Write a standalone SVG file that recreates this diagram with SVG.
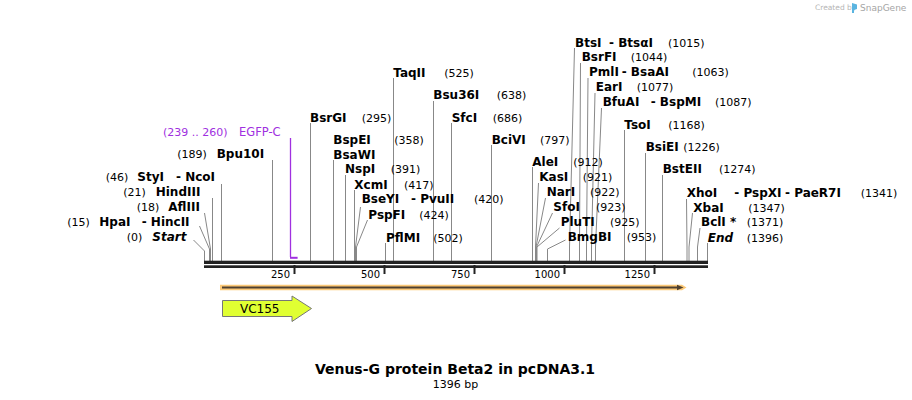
<svg xmlns="http://www.w3.org/2000/svg" width="912" height="400" viewBox="0 0 912 400">
<style>
.n{font-family:"DejaVu Sans",Verdana,sans-serif;font-size:12px;font-weight:bold;fill:#000}
.i{font-style:italic}
.p{font-family:"DejaVu Sans",Verdana,sans-serif;font-size:11px;fill:#000}
.t{font-family:"DejaVu Sans",Verdana,sans-serif;font-size:10px;fill:#000}
.ln{stroke:#888;stroke-width:1;fill:none}
.tk{stroke:#222;stroke-width:2}
.pu{fill:#a030e0}
</style>
<rect width="912" height="400" fill="#fff"/>
<g id="credit">
<text x="815" y="10" font-family="DejaVu Sans,sans-serif" font-size="7.5" fill="#b5b5b5">Created by</text>
<path d="M852,3 L857,4.5 L857,9 L854,10 L854,13 L852,13 Z" fill="#5ab4e0"/>
<text x="860" y="11" font-family="DejaVu Sans,sans-serif" font-size="9" fill="#a5a5a5">SnapGene</text>
</g>
<g id="connectors">
<polyline class="ln" points="193.5,240 204.5,251 204.5,261"/>
<polyline class="ln" points="199.5,226 209.5,249 209.5,261"/>
<polyline class="ln" points="204.5,213 210.5,249 210.5,261"/>
<line class="ln" x1="212.5" y1="198" x2="212.5" y2="261"/>
<line class="ln" x1="221.5" y1="184" x2="221.5" y2="261"/>
<line class="ln" x1="272.5" y1="160" x2="272.5" y2="261"/>
<line class="ln" x1="310.5" y1="123" x2="310.5" y2="261"/>
<line class="ln" x1="333.5" y1="160" x2="333.5" y2="261"/>
<line class="ln" x1="345.5" y1="175" x2="345.5" y2="261"/>
<line class="ln" x1="354.5" y1="190" x2="354.5" y2="261"/>
<polyline class="ln" points="360.5,207 355.5,247 355.5,261"/>
<polyline class="ln" points="367.5,220 356.5,247 356.5,261"/>
<line class="ln" x1="385.5" y1="243" x2="385.5" y2="261"/>
<line class="ln" x1="393.5" y1="78" x2="393.5" y2="261"/>
<line class="ln" x1="433.5" y1="101" x2="433.5" y2="261"/>
<line class="ln" x1="451.5" y1="123" x2="451.5" y2="261"/>
<line class="ln" x1="491.5" y1="145" x2="491.5" y2="261"/>
<line class="ln" x1="532.5" y1="167" x2="532.5" y2="261"/>
<polyline class="ln" points="538.5,183 535.5,247 535.5,261"/>
<polyline class="ln" points="545.5,198 536,247 536,261"/>
<polyline class="ln" points="552.5,213 536.5,247 536.5,261"/>
<polyline class="ln" points="559.5,228 537,247 537,261"/>
<polyline class="ln" points="565.5,240 547.5,249 547.5,261"/>
<polyline class="ln" points="574.5,48 569.5,247 569.5,261"/>
<polyline class="ln" points="580.5,63 579.5,247 579.5,261"/>
<polyline class="ln" points="588,78 586.5,247 586.5,261"/>
<polyline class="ln" points="595,93 591.5,247 591.5,261"/>
<polyline class="ln" points="601.5,108 595.5,247 595.5,261"/>
<line class="ln" x1="624.5" y1="130" x2="624.5" y2="261"/>
<line class="ln" x1="645.5" y1="153" x2="645.5" y2="261"/>
<line class="ln" x1="662.5" y1="175" x2="662.5" y2="261"/>
<polyline class="ln" points="686.5,199 687,247 687,261"/>
<polyline class="ln" points="692.5,213 689,247 689,261"/>
<polyline class="ln" points="700,228 697.5,247 697.5,261"/>
<line class="ln" x1="707.5" y1="243" x2="707.5" y2="261"/>
</g>
<g id="backbone">
<rect x="204" y="260.7" width="504" height="3.3" fill="#222"/>
<rect x="204" y="265.3" width="504" height="2.7" fill="#222"/>
<line class="tk" x1="294.5" y1="265" x2="294.5" y2="274"/>
<line class="tk" x1="384.5" y1="265" x2="384.5" y2="274"/>
<line class="tk" x1="474.5" y1="265" x2="474.5" y2="274"/>
<line class="tk" x1="564.5" y1="265" x2="564.5" y2="274"/>
<line class="tk" x1="654.5" y1="265" x2="654.5" y2="274"/>
<text class="t" x="290" y="278" text-anchor="end">250</text>
<text class="t" x="380" y="278" text-anchor="end">500</text>
<text class="t" x="470" y="278" text-anchor="end">750</text>
<text class="t" x="560" y="278" text-anchor="end">1000</text>
<text class="t" x="650" y="278" text-anchor="end">1250</text>
</g>
<g id="egfp-c">
<line x1="290.5" y1="138" x2="290.5" y2="257" stroke="#a030e0" stroke-width="1.3"/>
<rect x="290" y="256.8" width="7.6" height="2" fill="#a030e0"/>
<text class="p pu" x="163" y="135.5">(239 .. 260)</text>
<text class="pu" x="239" y="135.5" font-family="DejaVu Sans,Verdana,sans-serif" font-size="11.5">EGFP-C</text>
</g>
<g id="feature-orange">
<path d="M220,284.7 L682,284.7 L686.5,287.5 L682,290.3 L220,290.3 Z" fill="#fcc978"/>
<line x1="222" y1="287.5" x2="679" y2="287.5" stroke="#4f4130" stroke-width="2"/>
<path d="M677,284.8 L683.5,287.5 L677,290.2 Z" fill="#4f4130"/>
</g>
<g id="primer-vc155">
<polygon points="222.5,300.5 292,300.5 292,296 311.5,308.5 292,321.5 292,316.5 222.5,316.5" fill="#e0ff32" stroke="#777" stroke-width="1"/>
<text x="240" y="313" font-family="DejaVu Sans,Verdana,sans-serif" font-size="12" fill="#000">VC155</text>
</g>
<g id="site-start"><text class="p" x="126.7" y="241">(0)</text><text class="n i" x="152.3" y="241">Start</text></g>
<g id="site-hpai"><text class="p" x="67.3" y="226">(15)</text><text class="n" x="99.3" y="226">HpaI</text><text class="n" x="141.7" y="226">- HincII</text></g>
<g id="site-afliii"><text class="p" x="136.7" y="211">(18)</text><text class="n" x="168.3" y="211">AflIII</text></g>
<g id="site-hindiii"><text class="p" x="123.3" y="196">(21)</text><text class="n" x="155.7" y="196">HindIII</text></g>
<g id="site-styi"><text class="p" x="105.7" y="181">(46)</text><text class="n" x="137.3" y="181">StyI</text><text class="n" x="176" y="181">- NcoI</text></g>
<g id="site-bpu10i"><text class="p" x="177.3" y="158">(189)</text><text class="n" x="216.7" y="158">Bpu10I</text></g>
<g id="site-bsrgi"><text class="n" x="310" y="121.5">BsrGI</text><text class="p" x="361.7" y="121.5">(295)</text></g>
<g id="site-bspei"><text class="n" x="333.3" y="143.5">BspEI</text><text class="p" x="394.3" y="143.5">(358)</text><text class="n" x="333.3" y="158.5">BsaWI</text></g>
<g id="site-nspi"><text class="n" x="345" y="173">NspI</text><text class="p" x="390.7" y="173">(391)</text></g>
<g id="site-xcmi"><text class="n" x="354.3" y="188.5">XcmI</text><text class="p" x="404" y="188.5">(417)</text></g>
<g id="site-bseyi"><text class="n" x="361.7" y="203">BseYI</text><text class="n" x="411" y="203">- PvuII</text><text class="p" x="474" y="203">(420)</text></g>
<g id="site-pspfi"><text class="n" x="368.3" y="218.5">PspFI</text><text class="p" x="419.3" y="218.5">(424)</text></g>
<g id="site-pflmi"><text class="n" x="386" y="241.5">PflMI</text><text class="p" x="433.3" y="241.5">(502)</text></g>
<g id="site-taqii"><text class="n" x="393.3" y="76.5">TaqII</text><text class="p" x="444.3" y="76.5">(525)</text></g>
<g id="site-bsu36i"><text class="n" x="433.3" y="98.5">Bsu36I</text><text class="p" x="496.7" y="98.5">(638)</text></g>
<g id="site-sfci"><text class="n" x="451.7" y="121.5">SfcI</text><text class="p" x="492.7" y="121.5">(686)</text></g>
<g id="site-bcivi"><text class="n" x="491.7" y="143.5">BciVI</text><text class="p" x="540" y="143.5">(797)</text></g>
<g id="site-alei"><text class="n" x="532.3" y="166">AleI</text><text class="p" x="573.3" y="166">(912)</text></g>
<g id="site-kasi"><text class="n" x="539.3" y="181">KasI</text><text class="p" x="582.7" y="181">(921)</text></g>
<g id="site-nari"><text class="n" x="546.7" y="196">NarI</text><text class="p" x="590" y="196">(922)</text></g>
<g id="site-sfoi"><text class="n" x="553.3" y="211">SfoI</text><text class="p" x="596" y="211">(923)</text></g>
<g id="site-pluti"><text class="n" x="560.7" y="226">PluTI</text><text class="p" x="610" y="226">(925)</text></g>
<g id="site-bmgbi"><text class="n" x="567.7" y="241">BmgBI</text><text class="p" x="626.7" y="241">(953)</text></g>
<g id="site-btsi"><text class="n" x="575" y="46.5">BtsI</text><text class="n" x="609" y="46.5">- BtsαI</text><text class="p" x="668" y="46.5">(1015)</text></g>
<g id="site-bsrfi"><text class="n" x="581.7" y="61">BsrFI</text><text class="p" x="630.7" y="61">(1044)</text></g>
<g id="site-pmli"><text class="n" x="589" y="76">PmlI</text><text class="n" x="621.7" y="76">- BsaAI</text><text class="p" x="692.3" y="76">(1063)</text></g>
<g id="site-eari"><text class="n" x="595.7" y="91">EarI</text><text class="p" x="636.7" y="91">(1077)</text></g>
<g id="site-bfuai"><text class="n" x="602.7" y="106">BfuAI</text><text class="n" x="650.7" y="106">- BspMI</text><text class="p" x="715" y="106">(1087)</text></g>
<g id="site-tsoi"><text class="n" x="624.3" y="128.5">TsoI</text><text class="p" x="668.3" y="128.5">(1168)</text></g>
<g id="site-bsiei"><text class="n" x="645.7" y="151">BsiEI</text><text class="p" x="683.3" y="151">(1226)</text></g>
<g id="site-bsteii"><text class="n" x="662.7" y="173">BstEII</text><text class="p" x="719" y="173">(1274)</text></g>
<g id="site-xhoi"><text class="n" x="686.7" y="196.5">XhoI</text><text class="n" x="734.3" y="196.5">- PspXI</text><text class="n" x="785" y="196.5">- PaeR7I</text><text class="p" x="860.7" y="196.5">(1341)</text></g>
<g id="site-xbai"><text class="n" x="693.3" y="211.5">XbaI</text><text class="p" x="748.3" y="211.5">(1347)</text></g>
<g id="site-bcli"><text class="n" x="701" y="226">BclI *</text><text class="p" x="746.7" y="226">(1371)</text></g>
<g id="site-end"><text class="n i" x="707.7" y="241.5">End</text><text class="p" x="746.7" y="241.5">(1396)</text></g>
<g id="title">
<text x="455" y="374" text-anchor="middle" font-family="DejaVu Sans,Verdana,sans-serif" font-size="14" font-weight="bold" fill="#000">Venus-G protein Beta2 in pcDNA3.1</text>
<text x="455.5" y="388" text-anchor="middle" font-family="DejaVu Sans,Verdana,sans-serif" font-size="11" fill="#000">1396 bp</text>
</g>
</svg>
